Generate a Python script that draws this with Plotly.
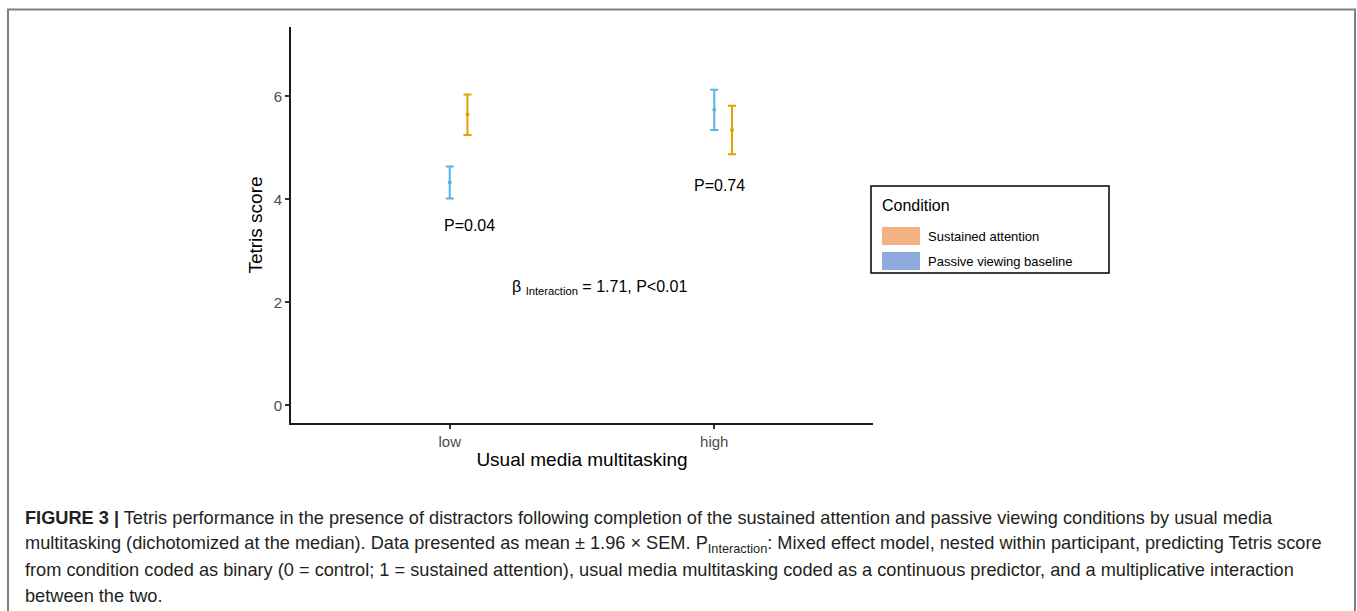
import plotly.graph_objects as go

# ---- data ----
categories = ["low", "high"]
cat_pos = [1, 2]
conditions = ["Passive viewing baseline", "Sustained attention"]
passive_mean = [4.33, 5.74]
passive_lo = [4.02, 5.35]
passive_hi = [4.64, 6.13]
sustained_mean = [5.65, 5.35]
sustained_lo = [5.25, 4.88]
sustained_hi = [6.04, 5.82]
dodge = [0.0, 0.067]
y_ticks = [0, 2, 4, 6]
p_labels = ["P=0.04", "P=0.74"]
p_label_y = [3.5, 4.28]
p_label_dx = [0.074, 0.018]

W, H = 1357, 611
L, R, T, B = 291, 873, 27, 423

def px(x):
    return (x - L) / (R - L)

def py(y):
    return (B - y) / (B - T)

fig = go.Figure()

series = [
    (passive_mean, passive_lo, passive_hi, "#56B4E9", dodge[0]),
    (sustained_mean, sustained_lo, sustained_hi, "#E69F00", dodge[1]),
]
for (m, lo, hi, col, dx), name in zip(series, conditions):
    fig.add_trace(go.Scatter(
        x=[c + dx for c in cat_pos], y=m, mode="markers", name=name,
        marker=dict(color=col, size=4),
        error_y=dict(type="data", symmetric=False,
                     array=[h - v for h, v in zip(hi, m)],
                     arrayminus=[v - l for v, l in zip(m, lo)],
                     color=col, thickness=2, width=4),
        showlegend=False,
    ))

font = "Liberation Sans, Arial, sans-serif"
fig.update_layout(
    width=W, height=H,
    margin=dict(l=L, r=W - R, t=T, b=H - B),
    plot_bgcolor="white", paper_bgcolor="white",
    font=dict(family=font, color="black"),
    xaxis=dict(range=[0.4, 2.6], tickvals=cat_pos, ticktext=categories,
               showline=True, linecolor="#1a1a1a", linewidth=2,
               ticks="outside", ticklen=4, tickwidth=2, tickcolor="#333333",
               showgrid=False, zeroline=False, ticklabelstandoff=0,
               tickfont=dict(size=15, color="#4d4d4d", family=font),
               title=dict(text="Usual media multitasking", font=dict(size=19), standoff=4)),
    yaxis=dict(range=[-0.344, 7.35], tickvals=y_ticks,
               showline=True, linecolor="#1a1a1a", linewidth=2,
               ticks="outside", ticklen=4, tickwidth=2, tickcolor="#333333",
               showgrid=False, zeroline=False,
               tickfont=dict(size=15, color="#4d4d4d", family=font),
               title=dict(text="Tetris score", font=dict(size=19), standoff=6)),
)

# P labels
for c, lab, yy, dx in zip(cat_pos, p_labels, p_label_y, p_label_dx):
    fig.add_annotation(x=c + dx, y=yy, text=lab, showarrow=False,
                       font=dict(size=16, family=font), xanchor="center", yanchor="middle")

fig.add_annotation(x=1.566, y=2.28,
                   text="β <sub>Interaction</sub> = 1.71, P<0.01",
                   showarrow=False, font=dict(size=16, family=font),
                   xanchor="center", yanchor="middle")

# legend (drawn manually)
fig.add_shape(type="rect", xref="paper", yref="paper",
              x0=px(871), x1=px(1109), y0=py(273), y1=py(186),
              line=dict(color="black", width=1.5), fillcolor="white")
fig.add_annotation(xref="paper", yref="paper", x=px(880), y=py(205), text="Condition",
                   showarrow=False, xanchor="left", yanchor="middle",
                   font=dict(size=16, family=font))
legend_cols = ["#F4B183", "#8FAADC"]
legend_names = ["Sustained attention", "Passive viewing baseline"]
legend_y = [236, 261]
for col, name, yy in zip(legend_cols, legend_names, legend_y):
    fig.add_shape(type="rect", xref="paper", yref="paper",
                  x0=px(882), x1=px(920), y0=py(yy + 9), y1=py(yy - 9),
                  line=dict(width=0), fillcolor=col)
    fig.add_annotation(xref="paper", yref="paper", x=px(926), y=py(yy), text=name,
                       showarrow=False, xanchor="left", yanchor="middle",
                       font=dict(size=13, family=font))

# outer frame
fig.add_shape(type="rect", xref="paper", yref="paper",
              x0=px(8), x1=px(1355), y0=py(620), y1=py(9.5),
              line=dict(color="#7f7f7f", width=2), fillcolor="rgba(0,0,0,0)", layer="below")

caption_lines = [
    "<b>FIGURE 3 |</b> Tetris performance in the presence of distractors following completion of the sustained attention and passive viewing conditions by usual media",
    "multitasking (dichotomized at the median). Data presented as mean ± 1.96 × SEM. P<sub>Interaction</sub>: Mixed effect model, nested within participant, predicting Tetris score",
    "from condition coded as binary (0 = control; 1 = sustained attention), usual media multitasking coded as a continuous predictor, and a multiplicative interaction",
    "between the two.",
]
caption_y = [518, 544, 570, 596]
for line, yy in zip(caption_lines, caption_y):
    fig.add_annotation(xref="paper", yref="paper", x=px(23), y=py(yy), text=line,
                       showarrow=False, xanchor="left", yanchor="middle",
                       font=dict(size=18.2, family="Liberation Sans, Arial, sans-serif", color="#231f20"))

fig.write_html("out.html")
